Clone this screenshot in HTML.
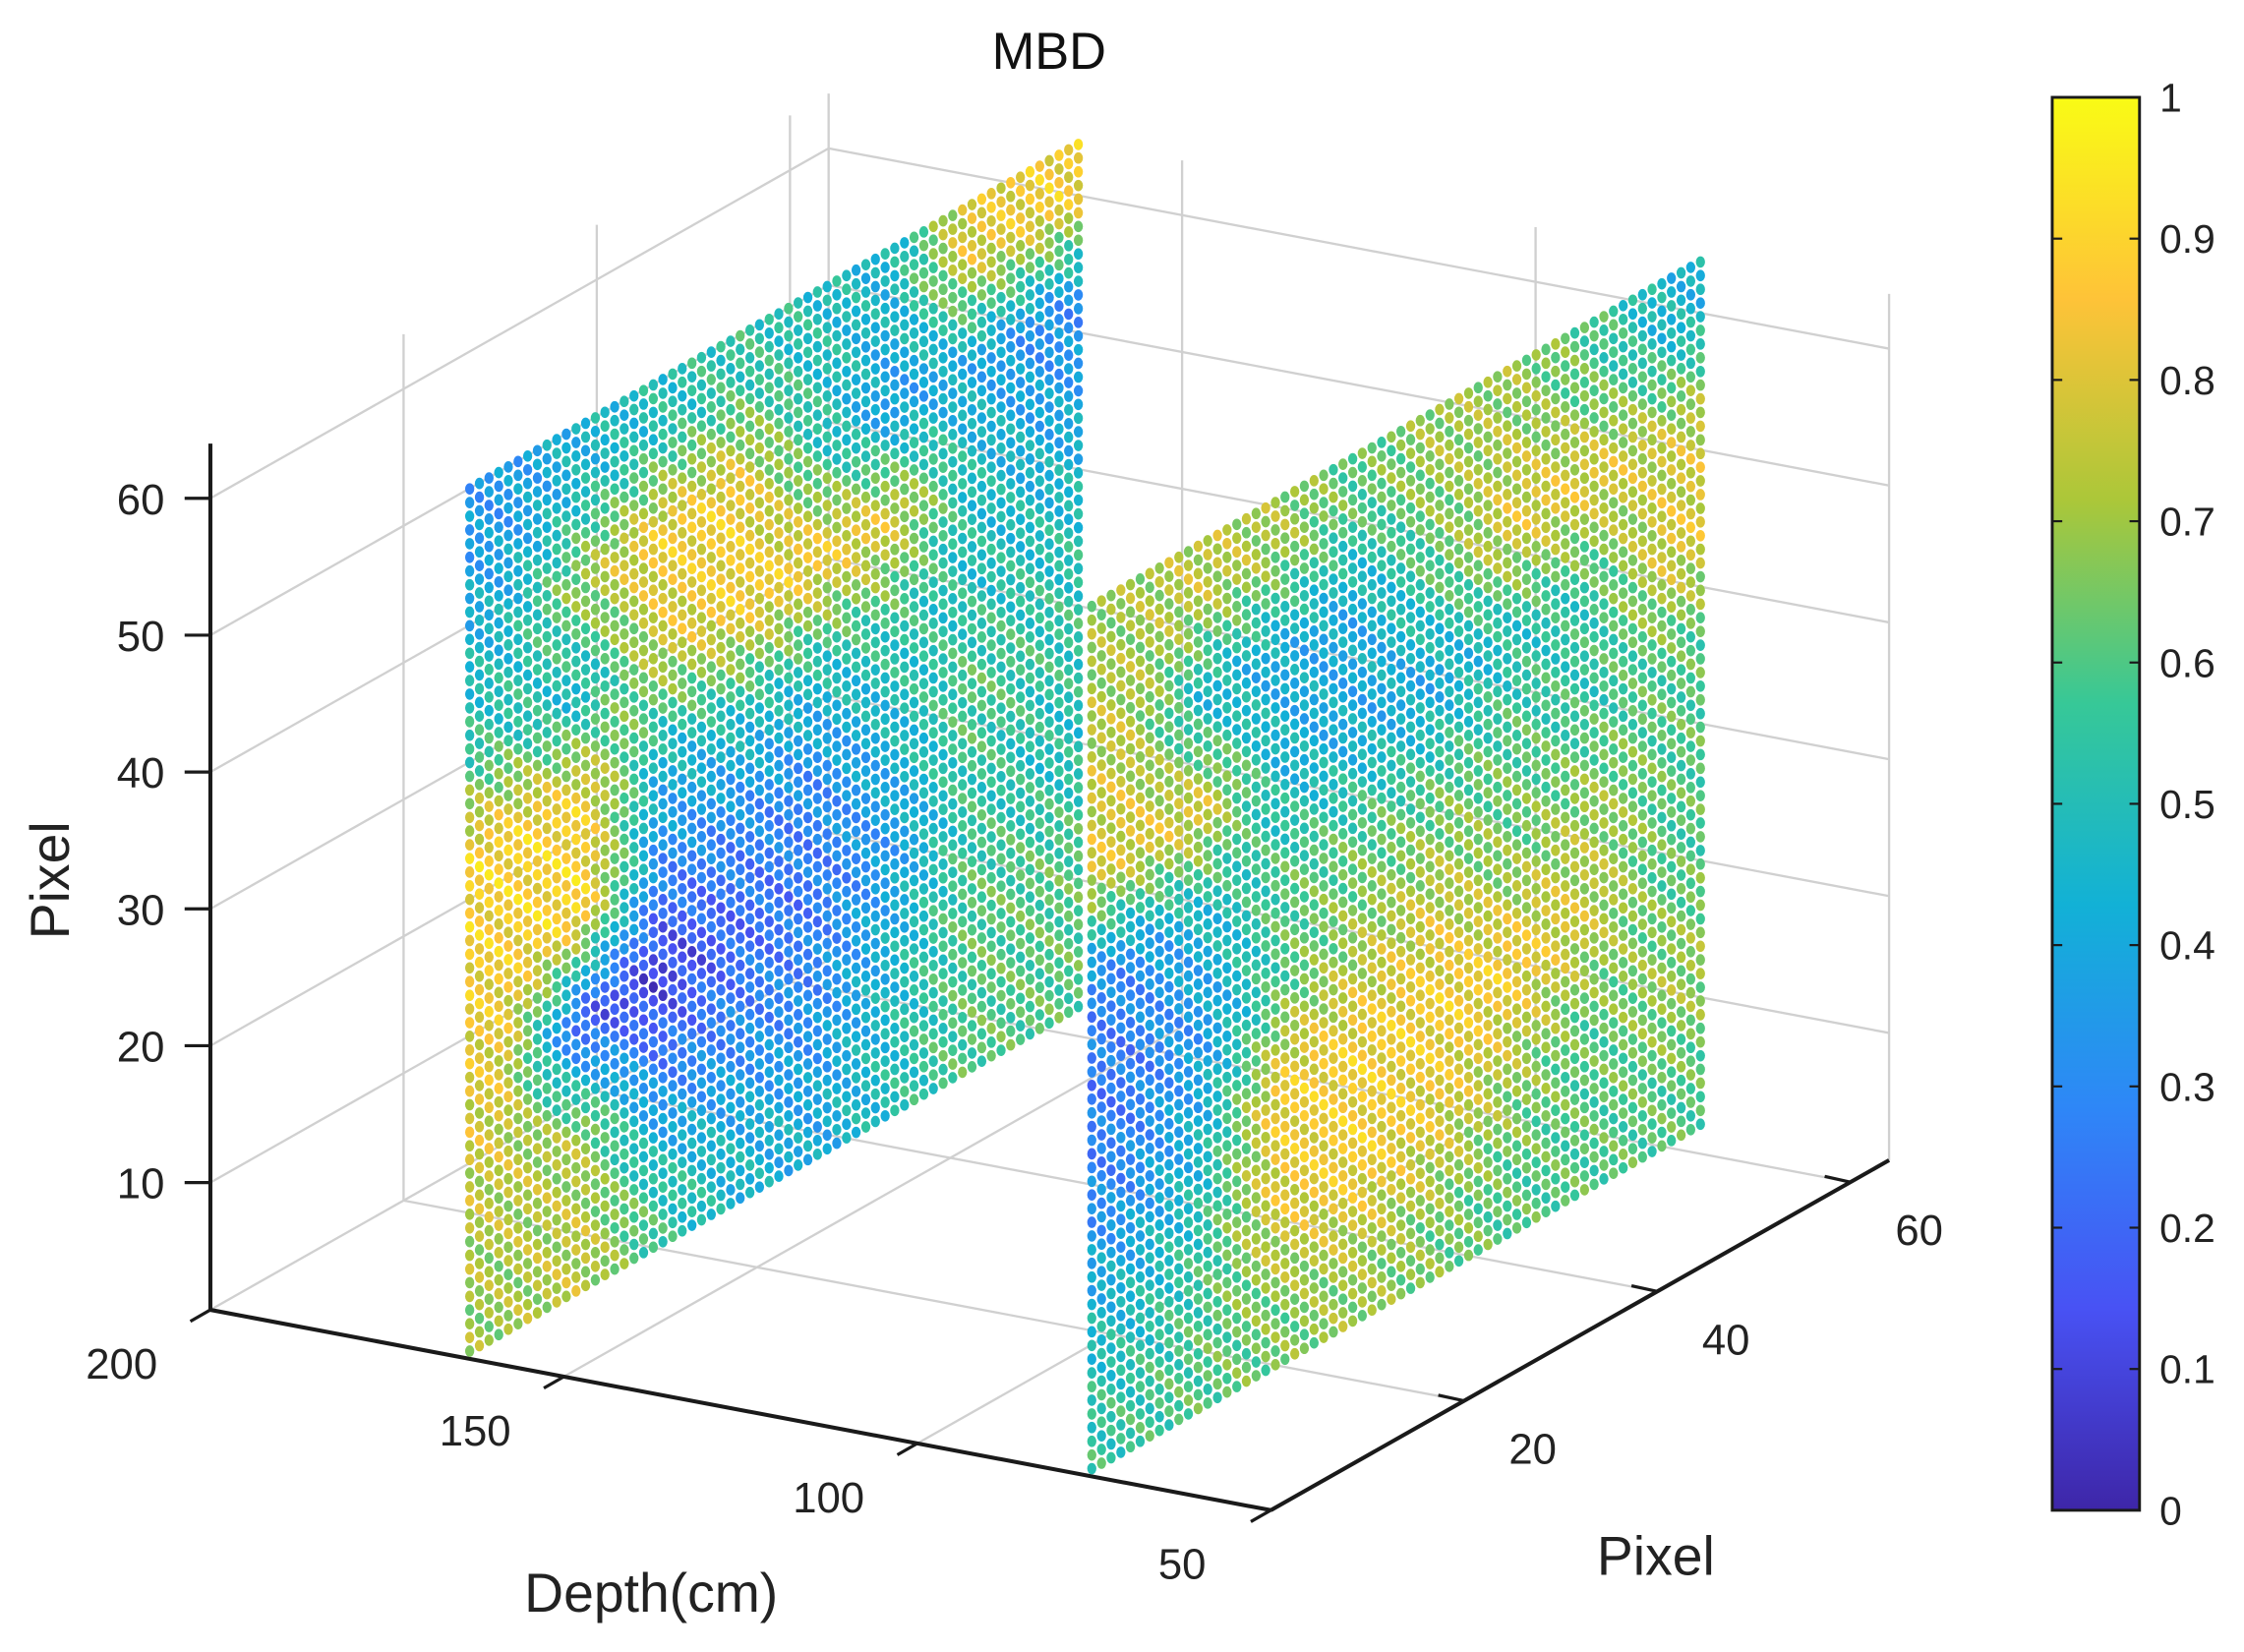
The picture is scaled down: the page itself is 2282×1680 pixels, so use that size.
<!DOCTYPE html>
<html><head><meta charset="utf-8"><style>
html,body{margin:0;padding:0;background:#fff;}
svg{display:block;font-family:"Liberation Sans",Arial,sans-serif;}
</style></head><body>
<svg id="chart" width="2282" height="1680" viewBox="0 0 1568 1154" preserveAspectRatio="none" xmlns="http://www.w3.org/2000/svg">
<rect x="0" y="0" width="1568" height="1154" fill="#fff"/>
<g id="grid"></g>
<g id="axes"></g>
<g id="dots"></g>
<g id="cbar"></g>
<text x="733" y="48" font-size="36" text-anchor="middle" fill="#111">MBD</text>
<text x="0" y="0" font-size="38" text-anchor="middle" fill="#222" transform="translate(48,615) rotate(-90)">Pixel</text>
<text x="455" y="1126" font-size="38" text-anchor="middle" fill="#222">Depth(cm)</text>
<text x="1157" y="1100" font-size="38" text-anchor="middle" fill="#222">Pixel</text>
</svg>
<script>
// ---- data ----
const depthTicks = [200, 150, 100, 50];
const pixelTicks = [20, 40, 60];
const zTicks = [10, 20, 30, 40, 50, 60];
const colorbarTicks = [0, 0.1, 0.2, 0.3, 0.4, 0.5, 0.6, 0.7, 0.8, 0.9, 1];
const sliceDepths = [164, 76];
// value grids: rows = z bands from top (z=64) to bottom, columns = pixel bands 0..64
const leftSliceValues = [
  [0.35,0.45,0.50,0.55,0.50,0.45,0.80,0.85],
  [0.45,0.70,0.85,0.85,0.55,0.35,0.40,0.30],
  [0.55,0.45,0.75,0.85,0.85,0.80,0.50,0.40],
  [0.88,0.85,0.45,0.50,0.50,0.55,0.50,0.50],
  [0.85,0.90,0.30,0.30,0.30,0.45,0.60,0.55],
  [0.80,0.15,0.08,0.20,0.25,0.35,0.55,0.50],
  [0.75,0.70,0.30,0.30,0.30,0.45,0.60,0.60],
  [0.70,0.75,0.55,0.45,0.40,0.50,0.60,0.60]
];
const rightSliceValues = [
  [0.70,0.75,0.70,0.60,0.70,0.70,0.60,0.45],
  [0.75,0.45,0.40,0.40,0.60,0.80,0.80,0.75],
  [0.80,0.80,0.45,0.40,0.40,0.50,0.55,0.80],
  [0.30,0.45,0.60,0.60,0.60,0.60,0.55,0.60],
  [0.25,0.35,0.60,0.70,0.75,0.65,0.70,0.60],
  [0.30,0.45,0.85,0.85,0.85,0.85,0.75,0.60],
  [0.45,0.55,0.80,0.85,0.80,0.70,0.60,0.70],
  [0.55,0.60,0.65,0.70,0.65,0.60,0.60,0.60]
];
const parula = [[62,38,168],[72,82,244],[46,135,247],[18,177,214],[55,200,151],[171,199,57],[254,195,56],[249,251,21]];

// ---- projection ----
const D0=200, Z0=0.7;
function PX(d,p){return 147+(D0-d)*4.94+p*6.75;}
function PY(d,p,z){return 915+(D0-d)*0.933-p*3.82-(z-Z0)*9.56;}
function color(v){v=Math.max(0,Math.min(1,v));const t=v*(parula.length-1);const i=Math.min(parula.length-2,Math.floor(t));const f=t-i;
 const a=parula[i],b=parula[i+1];return `rgb(${Math.round(a[0]+(b[0]-a[0])*f)},${Math.round(a[1]+(b[1]-a[1])*f)},${Math.round(a[2]+(b[2]-a[2])*f)})`;}
const NS='http://www.w3.org/2000/svg';
function mk(tag,attrs,parent){const e=document.createElementNS(NS,tag);for(const k in attrs)e.setAttribute(k,attrs[k]);parent.appendChild(e);return e;}

// ---- gridlines ----
const grid=document.getElementById('grid');
const gs={stroke:'#d0d0d0','stroke-width':1.6,fill:'none'};
function gline(x1,y1,x2,y2,name){const l=mk('line',Object.assign({x1,y1,x2,y2},gs),grid);
 
 }
const Ztop=64, Pmax=64;
zTicks.forEach(z=>{gline(PX(200,0),PY(200,0,z),PX(200,Pmax),PY(200,Pmax,z),'gridline-z');
 gline(PX(200,Pmax),PY(200,Pmax,z),PX(50,Pmax),PY(50,Pmax,z),'gridline-z');});
pixelTicks.forEach(p=>{gline(PX(200,p),PY(200,p,Z0),PX(200,p),PY(200,p,Ztop),'gridline-pixel');
 gline(PX(200,p),PY(200,p,Z0),PX(50,p),PY(50,p,Z0),'gridline-pixel');});
depthTicks.forEach(d=>{gline(PX(d,Pmax),PY(d,Pmax,Z0),PX(d,Pmax),PY(d,Pmax,Ztop),'gridline-depth');
 gline(PX(d,0),PY(d,0,Z0),PX(d,Pmax),PY(d,Pmax,Z0),'gridline-depth');});

// ---- axes ----
const axes=document.getElementById('axes');
const as={stroke:'#1a1a1a','stroke-width':2.8,fill:'none'};
function aline(x1,y1,x2,y2,name,w){const l=mk('line',Object.assign({x1,y1,x2,y2},as,w?{'stroke-width':w}:{}),axes);
 
 }
aline(PX(200,0),PY(200,0,Z0),PX(200,0),PY(200,0,Ztop),'z-axis-line');
aline(PX(200,0),PY(200,0,Z0),PX(50,0),PY(50,0,Z0),'depth-axis-line');
aline(PX(50,0),PY(50,0,Z0),PX(50,Pmax),PY(50,Pmax,Z0),'pixel-axis-line');
function atext(x,y,s,anchor,name){const t=mk('text',{x,y,'font-size':30,'text-anchor':anchor,fill:'#222'},axes);t.textContent=s;
 
 }
zTicks.forEach(z=>{const x=PX(200,0),y=PY(200,0,z);aline(x-18,y,x,y,'z-tick',2.2);atext(x-32,y+11,String(z),'end','z-tick-label');});
depthTicks.forEach(d=>{const x=PX(d,0),y=PY(d,0,Z0);aline(x,y,x-14,y+8,'depth-tick',2.2);atext(x-62,y+48,String(d),'middle','depth-tick-label');});
pixelTicks.forEach(p=>{const x=PX(50,p),y=PY(50,p,Z0);aline(x,y,x-18,y-4,'pixel-tick',2.2);atext(x+48,y+44,String(p),'middle','pixel-tick-label');});

// ---- scatter slices ----
const dots=document.getElementById('dots');
function sample(vals,u,w){ // u,w in cell units, bilinear between cell centers
 const rows=vals.length,cols=vals[0].length;
 let r=w-0.5,c=u-0.5;r=Math.max(0,Math.min(rows-1,r));c=Math.max(0,Math.min(cols-1,c));
 const r0=Math.min(rows-2,Math.floor(r)),c0=Math.min(cols-2,Math.floor(c));const fr=r-r0,fc=c-c0;
 return vals[r0][c0]*(1-fr)*(1-fc)+vals[r0][c0+1]*(1-fr)*fc+vals[r0+1][c0]*fr*(1-fc)+vals[r0+1][c0+1]*fr*fc;}
function drawSlice(d,vals,name){const g=mk('g',{},dots);
 
 
 const rows=vals.length,cols=vals[0].length;
 for(let i=0;i<64;i++){for(let j=0;j<64;j++){
  const p=j+0.5, z=64-i;
  const v=sample(vals,(j+0.5)*cols/64,(i+0.5)*rows/64)+(((i*7+j*13)%5)-2)*0.04;
  const e=mk('ellipse',{cx:PX(d,p).toFixed(1),cy:PY(d,p,z).toFixed(1),rx:3.2,ry:4.0,fill:color(v)},g);
  
  
 }}}
drawSlice(sliceDepths[0],leftSliceValues,'slice-depth-164');
drawSlice(sliceDepths[1],rightSliceValues,'slice-depth-76');

// ---- colorbar ----
const cb=document.getElementById('cbar');
const cx0=1434,cx1=1495,cyTop=68,cyBot=1055;
const defs=mk('defs',{},cb);const lg=mk('linearGradient',{id:'pg',x1:0,y1:1,x2:0,y2:0},defs);
parula.forEach((c,k)=>mk('stop',{offset:k/(parula.length-1),'stop-color':`rgb(${c[0]},${c[1]},${c[2]})`},lg));
const bar=mk('rect',{x:cx0,y:cyTop,width:cx1-cx0,height:cyBot-cyTop,fill:'url(#pg)',stroke:'#1a1a1a','stroke-width':2},cb);


colorbarTicks.forEach(v=>{const y=cyBot-v*(cyBot-cyTop);
 const l1=mk('line',{x1:cx0,y1:y,x2:cx0+7,y2:y,stroke:'#1a1a1a','stroke-width':1.5},cb);
 
 
 const l2=mk('line',{x1:cx1-7,y1:y,x2:cx1,y2:y,stroke:'#1a1a1a','stroke-width':1.5},cb);
 
 
 const t=mk('text',{x:cx1+14,y:y+10,'font-size':28,fill:'#222'},cb);t.textContent=String(v);
 
 });
</script>
</body></html>
